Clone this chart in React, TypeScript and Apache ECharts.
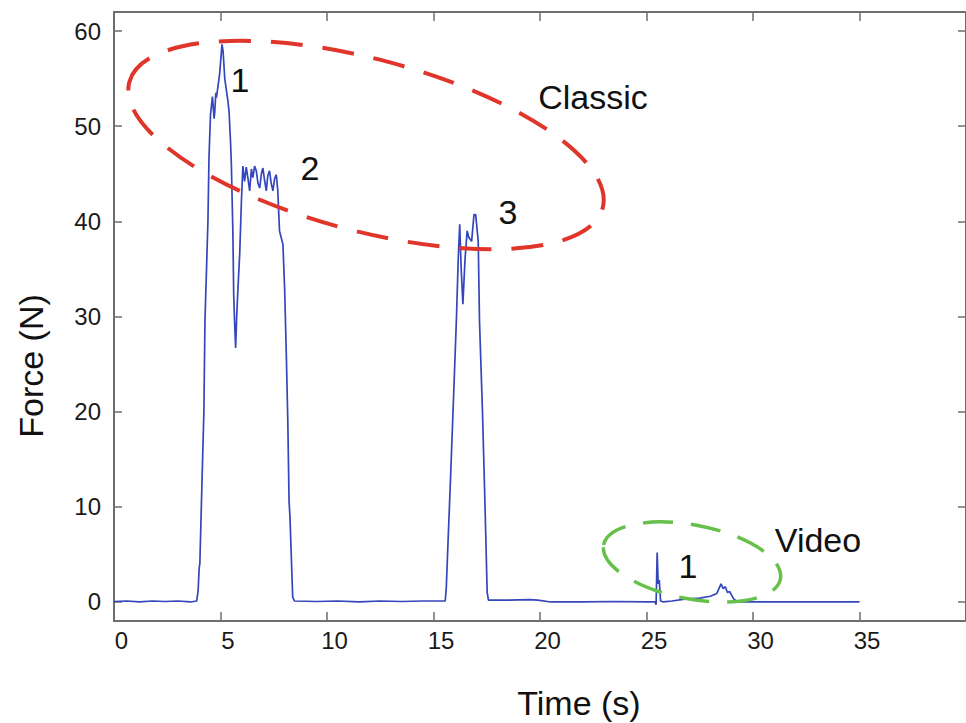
import React, { useEffect, useRef } from "react";
import * as echarts from "echarts";

// Time (s) samples of the force trace
const timeS = [
  0, 0.6, 1.2, 1.8, 2.4, 3.0, 3.6, 3.88, 3.95, 4.0, 4.03, 4.1, 4.22, 4.27, 4.41, 4.46, 4.53, 4.62,
  4.7, 4.73, 4.78, 4.81, 4.96, 5.07, 5.12, 5.2, 5.35, 5.4, 5.47, 5.51, 5.58, 5.62, 5.66, 5.71, 5.76,
  5.82, 5.9, 5.98, 6.05, 6.13, 6.21, 6.29, 6.37, 6.45, 6.52, 6.6, 6.68, 6.76, 6.84, 6.92, 6.99, 7.07,
  7.15, 7.22, 7.3, 7.38, 7.46, 7.54, 7.62, 7.69, 7.77, 7.93, 8.01, 8.09, 8.16, 8.22, 8.26, 8.39, 8.47,
  9.5, 10.5, 11.5, 12.5, 13.5, 14.5, 15.55, 15.6, 15.66, 15.8, 15.95, 16.08, 16.16, 16.23, 16.3, 16.38,
  16.48, 16.58, 16.66, 16.79, 16.9, 16.98, 17.1, 17.16, 17.3, 17.42, 17.52, 17.58, 18.5, 19.5, 19.9,
  20.5, 22, 23.5, 25, 25.4, 25.45, 25.5, 25.55, 25.6, 25.66, 25.8, 26.2, 26.8, 27.5, 28.0, 28.3, 28.5,
  28.6, 28.7, 28.8, 28.9, 29.1, 29.3, 31, 33, 35,
];
// Force (N) values
const forceN = [
  0.05, 0.1, 0.0, 0.1, 0.05, 0.1, 0.0, 0.1, 1.2, 3.6, 4.0, 10, 20, 29.5, 40, 46.7, 51.2, 53.1,
  50.8, 51.5, 53.5, 53, 55.5, 58.6, 57.9, 55, 52.6, 51.6, 48.4, 46, 39, 32.3, 29.5, 26.7, 30,
  33, 36.5, 42, 45.8, 44.2, 45.7, 44.5, 43.2, 45.5, 44.6, 45.8, 45.3, 44.0, 43.5, 45.0, 45.6, 44.3,
  43.2, 44.8, 45.3, 44.0, 43.2, 44.5, 44.9, 43.2, 39, 37.6, 33, 26, 19, 10.5, 9.0, 0.5, 0.1,
  0.05, 0.1, 0.0, 0.1, 0.05, 0.1, 0.1, 1.5, 5, 13, 22, 30, 36, 39.7, 35, 31.3,
  36, 39, 38.3, 37.9, 40.7, 40.7, 37.9, 29.5, 20, 10, 1, 0.2, 0.2, 0.25, 0.2,
  0.0, 0.0, 0.05, 0.0, 0.0, -0.3, 5.2, 1.9, 2.3, 0.1, 0.0, 0.1, 0.3, 0.4, 0.6, 0.9, 1.9,
  1.4, 1.6, 1.0, 1.1, 0.3, 0.0, 0.0, 0.0, 0.0,
];

const xTicks = [0, 5, 10, 15, 20, 25, 30, 35, 40];
const xLabels = [0, 5, 10, 15, 20, 25, 30, 35];
const yTicks = [0, 10, 20, 30, 40, 50, 60];

const FONT = "'Liberation Sans', Arial, Helvetica, sans-serif";
const AXIS_COLOR = "#6e6e6e";

export default function App() {
  const ref = useRef<HTMLDivElement>(null);
  useEffect(() => {
    if (!ref.current) return;
    const chart = echarts.init(ref.current, null, { renderer: "svg" });
    const axisLine = { show: true, onZero: false, lineStyle: { color: AXIS_COLOR, width: 2 } };
    const tickStyle = { lineStyle: { color: AXIS_COLOR, width: 1.5 } };
    const xBase = {
      type: "value" as const,
      min: 0,
      max: 40,
      splitLine: { show: false },
      axisLine,
    };
    const yBase = {
      type: "value" as const,
      min: -2,
      max: 62,
      splitLine: { show: false },
      axisLine,
    };
    chart.setOption({
      animation: false,
      backgroundColor: "#ffffff",
      grid: { left: 114, right: -2, top: 12, bottom: 102, show: false },
      xAxis: [
        {
          ...xBase,
          position: "bottom",
          axisTick: { show: true, inside: true, length: 9, customValues: xTicks, ...tickStyle },
          axisLabel: {
            show: true,
            customValues: xLabels,
            fontSize: 24,
            fontFamily: FONT,
            color: "#1a1a1a",
            margin: 7,
            padding: [0, 0, 0, 15],
          },
        },
        {
          ...xBase,
          position: "top",
          axisTick: { show: true, inside: true, length: 9, customValues: xTicks, ...tickStyle },
          axisLabel: { show: false },
        },
      ],
      yAxis: [
        {
          ...yBase,
          position: "left",
          axisTick: { show: true, inside: true, length: 8, customValues: yTicks, ...tickStyle },
          axisLabel: {
            show: true,
            customValues: yTicks,
            fontSize: 24,
            fontFamily: FONT,
            color: "#1a1a1a",
            margin: 13,
            padding: [5, 0, 0, 0],
          },
        },
        {
          ...yBase,
          position: "right",
          axisTick: { show: true, inside: true, length: 8, customValues: yTicks, ...tickStyle },
          axisLabel: { show: false },
        },
      ],
      series: [
        {
          type: "line",
          xAxisIndex: 0,
          yAxisIndex: 0,
          data: timeS.map((t, i) => [t, forceN[i]]),
          showSymbol: false,
          symbol: "none",
          lineStyle: { color: "#3446bb", width: 1.7 },
          z: 2,
        },
      ],
      graphic: [
        {
          type: "ellipse",
          x: 366,
          y: 145,
          rotation: -0.26,
          shape: { cx: 0, cy: 0, rx: 245, ry: 86 },
          style: { fill: "none", stroke: "#e0352b", lineWidth: 4, lineDash: [32, 20] },
          z: 100,
        },
        {
          type: "ellipse",
          x: 692,
          y: 562,
          rotation: -0.19,
          shape: { cx: 0, cy: 0, rx: 90, ry: 37 },
          style: { fill: "none", stroke: "#66c04a", lineWidth: 3.5, lineDash: [30, 18] },
          z: 100,
        },
        ...[
          { t: "1", x: 240, y: 80 },
          { t: "2", x: 310, y: 168 },
          { t: "3", x: 508, y: 212 },
          { t: "Classic", x: 593, y: 97 },
          { t: "Video", x: 818, y: 540 },
          { t: "1", x: 688, y: 566 },
          { t: "Time (s)", x: 579, y: 703 },
        ].map((a) => ({
          type: "text",
          x: a.x,
          y: a.y,
          z: 101,
          style: {
            text: a.t,
            fill: "#111111",
            font: `34px ${FONT}`,
            fontSize: 34,
            fontFamily: FONT,
            align: "center",
            verticalAlign: "middle",
            textAlign: "center",
            textVerticalAlign: "middle",
          },
        })),
        {
          type: "text",
          x: 31,
          y: 366,
          rotation: Math.PI / 2,
          z: 101,
          style: {
            text: "Force (N)",
            fill: "#111111",
            font: `34px ${FONT}`,
            fontSize: 34,
            fontFamily: FONT,
            align: "center",
            verticalAlign: "middle",
            textAlign: "center",
            textVerticalAlign: "middle",
          },
        },
      ],
    });
    return () => chart.dispose();
  }, []);
  return (
    <div
      ref={ref}
      style={{ position: "absolute", left: 0, top: 0, width: 966, height: 723, background: "#fff" }}
    />
  );
}
